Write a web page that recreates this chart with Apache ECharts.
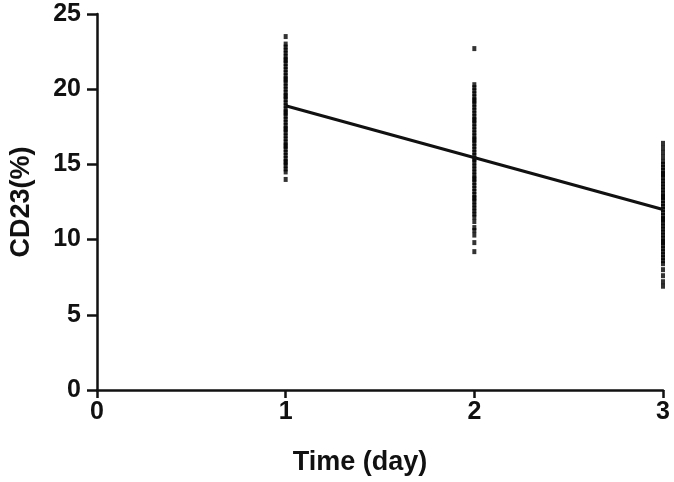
<!DOCTYPE html>
<html>
<head>
<meta charset="utf-8">
<script src="https://cdn.jsdelivr.net/npm/echarts@6/dist/echarts.min.js"></script>
<style>
  html, body { margin: 0; padding: 0; background: #fff; }
  #chart { width: 674px; height: 482px; }
</style>
</head>
<body>
<div id="chart"></div>
<script>
// x 轴刻度 / y 轴刻度
const dayTicks = [0, 1, 2, 3]
const cd23Ticks = [0, 5, 10, 15, 20, 25]

// 每天的散点值 (CD23 %)
const day1Values = [23.5, 23.0, 22.8, 22.6, 22.4, 22.2, 22.0, 21.9, 21.7, 21.5, 21.3, 21.1, 20.9, 20.7, 20.6, 20.4, 20.2, 20.0, 19.8, 19.6, 19.5, 19.3, 19.1, 18.9, 18.7, 18.5, 18.4, 18.2, 18.0, 17.8, 17.6, 17.4, 17.3, 17.1, 16.9, 16.7, 16.5, 16.3, 16.2, 16.0, 15.8, 15.6, 15.4, 15.2, 15.1, 14.9, 14.7, 14.5, 14.0]
const day2Values = [22.7, 20.3, 20.1, 19.9, 19.7, 19.5, 19.3, 19.2, 19.0, 18.8, 18.6, 18.4, 18.2, 18.0, 17.9, 17.7, 17.5, 17.3, 17.1, 16.9, 16.7, 16.6, 16.4, 16.2, 16.0, 15.8, 15.6, 15.4, 15.3, 15.1, 14.9, 14.7, 14.5, 14.3, 14.1, 14.0, 13.8, 13.6, 13.4, 13.2, 13.0, 12.8, 12.7, 12.5, 12.3, 12.1, 11.9, 11.7, 11.5, 11.2, 10.8, 10.6, 10.3, 9.8, 9.2]
const day3Values = [16.4, 16.1, 15.8, 15.5, 15.2, 15.0, 14.8, 14.6, 14.4, 14.3, 14.1, 13.9, 13.7, 13.5, 13.3, 13.1, 12.9, 12.8, 12.6, 12.4, 12.2, 12.0, 11.8, 11.6, 11.4, 11.3, 11.1, 10.9, 10.7, 10.5, 10.3, 10.1, 9.9, 9.8, 9.6, 9.4, 9.2, 9.0, 8.8, 8.6, 8.4, 8.0, 7.6, 7.2, 6.9]

// 回归线端点
const fitDays = [1, 3]
const fitValues = [18.9, 12.0]

const font = 'Liberation Sans, Arial, sans-serif'
const ink = '#111'

function points(day, values) {
  return values.map(v => [day, v])
}
const scatterData = [].concat(
  points(1, day1Values),
  points(2, day2Values),
  points(3, day3Values)
)

const chart = echarts.init(document.getElementById('chart'))
const option = {
  animation: false,
  grid: {
    left: 97,
    right: 11,
    top: 14,
    bottom: 92,
    outerBoundsMode: 'none'
  },
  xAxis: {
    type: 'value',
    min: dayTicks[0],
    max: dayTicks[dayTicks.length - 1],
    interval: 1,
    name: 'Time (day)',
    nameLocation: 'middle',
    nameGap: 59,
    nameTextStyle: {
      color: ink,
      fontFamily: font,
      fontWeight: 'bold',
      fontSize: 27,
      padding: [0, 40, 0, 0]
    },
    axisLine: { lineStyle: { color: ink, width: 2.5 } },
    axisTick: { length: 8, lineStyle: { color: ink, width: 2.5 } },
    axisLabel: {
      color: ink,
      fontFamily: font,
      fontWeight: 'bold',
      fontSize: 25,
      margin: 10
    },
    splitLine: { show: false }
  },
  yAxis: {
    type: 'value',
    min: cd23Ticks[0],
    max: cd23Ticks[cd23Ticks.length - 1],
    interval: 5,
    name: 'CD23(%)',
    nameLocation: 'middle',
    nameGap: 62,
    nameTextStyle: {
      color: ink,
      fontFamily: font,
      fontWeight: 'bold',
      fontSize: 27
    },
    axisLine: { lineStyle: { color: ink, width: 2.5 } },
    axisTick: { length: 10, lineStyle: { color: ink, width: 2.5 } },
    axisLabel: {
      color: ink,
      fontFamily: font,
      fontWeight: 'bold',
      fontSize: 25,
      margin: 16
    },
    splitLine: { show: false }
  },
  series: [
    {
      type: 'scatter',
      symbol: 'rect',
      symbolSize: [4, 5],
      itemStyle: { color: '#000' },
      data: scatterData
    },
    {
      type: 'line',
      showSymbol: false,
      lineStyle: { color: ink, width: 3 },
      data: fitDays.map((d, i) => [d, fitValues[i]])
    }
  ]
}
chart.setOption(option)
</script>
</body>
</html>
